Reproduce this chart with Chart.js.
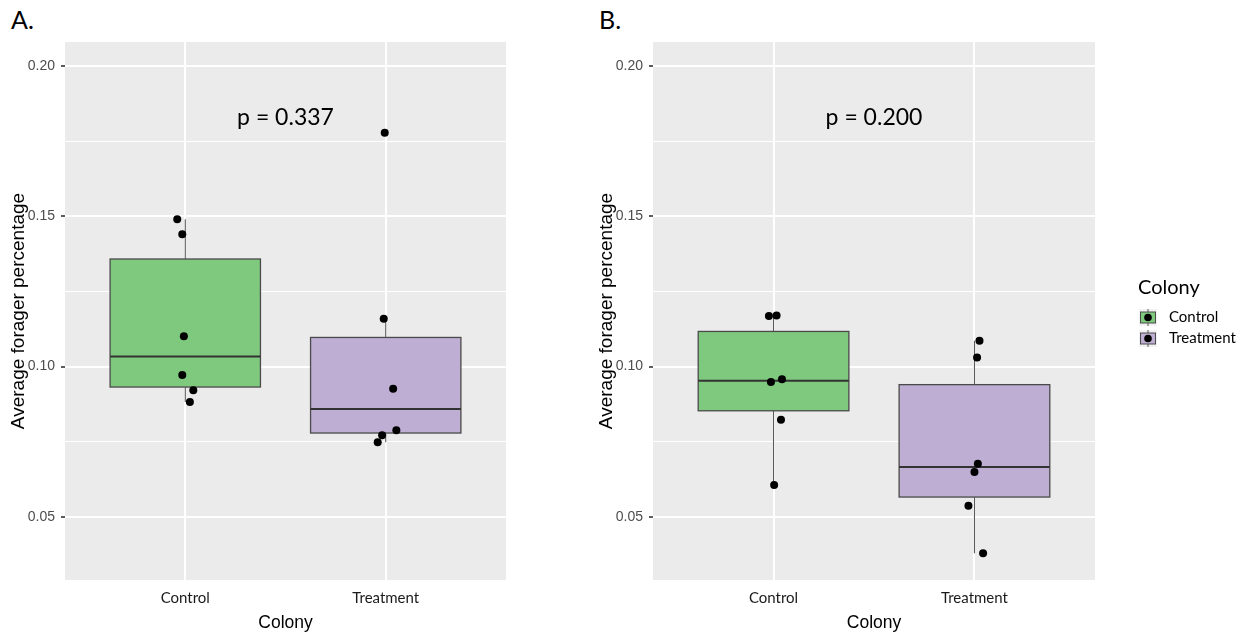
<!DOCTYPE html>
<html>
<head>
<meta charset="utf-8">
<script src="https://cdn.jsdelivr.net/npm/chart.js@4.4.1/dist/chart.umd.min.js"></script>
<style>
  body { margin: 0; background: #fff; width: 1253px; height: 636px; position: relative; overflow: hidden; }
  canvas { position: absolute; top: 0; }
  #chartA { left: 0; }
  #chartB { left: 588px; }
  .tag { position: absolute; top: 4px; font: 25px Lato, sans-serif; line-height: 30px; color: #000; }
</style>
</head>
<body>
<div class="tag" style="left:11px">A.</div>
<div class="tag" style="left:599px">B.</div>
<canvas id="chartA" width="560" height="636"></canvas>
<canvas id="chartB" width="665" height="636"></canvas>
<script>
const categories = ['Control', 'Treatment'];
const majorTicks = [0.05, 0.10, 0.15, 0.20];
const minorTicks = [0.075, 0.125, 0.175];
const fills = ['#7FC97F', '#BEAED4'];

// panel A: box stats per category, then the jittered points
const aLow = [0.0882, 0.0748];
const aQ1 = [0.0932, 0.0779];
const aMed = [0.1034, 0.0859];
const aQ3 = [0.1358, 0.1097];
const aHigh = [0.1490, 0.1159];
const aControl = [0.1490, 0.1440, 0.1101, 0.0972, 0.0921, 0.0882];
const aControlJit = [-0.04, -0.015, -0.007, -0.015, 0.04, 0.023];
const aTreat = [0.1778, 0.1159, 0.0926, 0.0788, 0.0772, 0.0748];
const aTreatJit = [-0.005, -0.01, 0.037, 0.053, -0.018, -0.04];
const aP = 'p = 0.337';

// panel B
const bLow = [0.0606, 0.0379];
const bQ1 = [0.0853, 0.0566];
const bMed = [0.0953, 0.0666];
const bQ3 = [0.1117, 0.0940];
const bHigh = [0.1170, 0.1086];
const bControl = [0.1168, 0.1170, 0.0949, 0.0958, 0.0823, 0.0606];
const bControlJit = [-0.023, 0.015, -0.013, 0.042, 0.037, 0.003];
const bTreat = [0.1086, 0.1030, 0.0677, 0.0649, 0.0537, 0.0379];
const bTreatJit = [0.025, 0.013, 0.017, 0, -0.03, 0.043];
const bP = 'p = 0.200';

const pLabelY = 0.183;

function isMajor(v) {
  return Math.abs(v * 20 - Math.round(v * 20)) < 1e-6;
}

function boxPlugin(low, q1, med, q3, high, pText) {
  return {
    id: 'boxes',
    beforeDraw(chart) {
      const { ctx, chartArea: a } = chart;
      ctx.save();
      ctx.fillStyle = '#EBEBEB';
      ctx.fillRect(a.left, a.top, a.right - a.left, a.bottom - a.top);
      ctx.restore();
    },
    beforeDatasetsDraw(chart) {
      const { ctx, scales: { x, y } } = chart;
      ctx.save();
      categories.forEach((c, i) => {
        const cx = x.getPixelForValue(i + 1);
        const half = x.getPixelForValue(i + 1 + 0.375) - cx;
        const top = y.getPixelForValue(q3[i]);
        const bot = y.getPixelForValue(q1[i]);
        // whiskers
        ctx.strokeStyle = '#5a5a5a';
        ctx.lineWidth = 1.1;
        ctx.beginPath();
        ctx.moveTo(cx, top);
        ctx.lineTo(cx, y.getPixelForValue(high[i]));
        ctx.moveTo(cx, bot);
        ctx.lineTo(cx, y.getPixelForValue(low[i]));
        ctx.stroke();
        // box
        ctx.fillStyle = fills[i];
        ctx.fillRect(cx - half, top, 2 * half, bot - top);
        ctx.strokeStyle = '#4a4a4a';
        ctx.lineWidth = 1.3;
        ctx.strokeRect(cx - half, top, 2 * half, bot - top);
        // median
        const m = y.getPixelForValue(med[i]);
        ctx.strokeStyle = '#333333';
        ctx.lineWidth = 2;
        ctx.beginPath();
        ctx.moveTo(cx - half, m);
        ctx.lineTo(cx + half, m);
        ctx.stroke();
      });
      ctx.fillStyle = '#000';
      ctx.font = '23px Lato';
      ctx.textAlign = 'center';
      ctx.textBaseline = 'middle';
      ctx.fillText(pText, x.getPixelForValue(1.5), y.getPixelForValue(pLabelY));
      ctx.restore();
    }
  };
}

const legendPlugin = {
  id: 'colonyLegend',
  afterDraw(chart) {
    const { ctx, chartArea: a } = chart;
    const lx = a.right + 43;
    ctx.save();
    ctx.fillStyle = '#000';
    ctx.textAlign = 'left';
    ctx.textBaseline = 'middle';
    ctx.font = '20px Lato';
    ctx.fillText('Colony', lx, 288);
    categories.forEach((c, i) => {
      const ky = 309 + i * 21;
      const kx = lx + 1;
      ctx.fillStyle = '#F2F2F2';
      ctx.fillRect(kx, ky, 18, 17);
      ctx.strokeStyle = '#5a5a5a';
      ctx.lineWidth = 1;
      ctx.beginPath();
      ctx.moveTo(kx + 9, ky);
      ctx.lineTo(kx + 9, ky + 17);
      ctx.stroke();
      ctx.fillStyle = fills[i];
      ctx.fillRect(kx + 1.5, ky + 3, 15, 11);
      ctx.strokeStyle = '#4a4a4a';
      ctx.strokeRect(kx + 1.5, ky + 3, 15, 11);
      ctx.fillStyle = '#000';
      ctx.beginPath();
      ctx.arc(kx + 9, ky + 8.5, 3.8, 0, Math.PI * 2);
      ctx.fill();
      ctx.font = '15px Lato';
      ctx.fillText(c, lx + 31, ky + 8.5);
    });
    ctx.restore();
  }
};

function makePanel(id, low, q1, med, q3, high, ctrl, ctrlJit, treat, treatJit, pText, rightPad, extra) {
  const plugins = [boxPlugin(low, q1, med, q3, high, pText)];
  if (extra) plugins.push(extra);
  return new Chart(document.getElementById(id), {
    type: 'scatter',
    plugins: plugins,
    data: {
      datasets: [
        {
          label: categories[0],
          data: ctrl.map((v, k) => ({ x: 1 + ctrlJit[k], y: v })),
          pointRadius: 4,
          pointBackgroundColor: '#000',
          pointBorderWidth: 0
        },
        {
          label: categories[1],
          data: treat.map((v, k) => ({ x: 2 + treatJit[k], y: v })),
          pointRadius: 4,
          pointBackgroundColor: '#000',
          pointBorderWidth: 0
        }
      ]
    },
    options: {
      responsive: false,
      animation: false,
      layout: { padding: { left: 0, right: rightPad, top: 42, bottom: 0 } },
      plugins: { legend: { display: false }, tooltip: { enabled: false } },
      scales: {
        x: {
          type: 'linear',
          min: 0.4,
          max: 2.6,
          afterBuildTicks: s => { s.ticks = categories.map((c, i) => ({ value: i + 1 })); },
          afterFit: s => { s.height = 56; },
          border: { display: false },
          grid: { color: '#FFFFFF', lineWidth: 2, drawTicks: false },
          ticks: {
            callback: v => categories[Math.round(v) - 1],
            color: '#1a1a1a',
            font: { family: 'Lato', size: 15 },
            padding: 9,
            maxRotation: 0
          },
          title: {
            display: true,
            text: 'Colony',
            color: '#000',
            font: { family: 'Liberation Sans', size: 17.5 },
            padding: { top: 2, bottom: 2 }
          }
        },
        y: {
          type: 'linear',
          min: 0.029,
          max: 0.208,
          afterBuildTicks: s => {
            s.ticks = majorTicks.concat(minorTicks).sort((p, q) => p - q).map(v => ({ value: v }));
          },
          afterFit: s => { s.width = 65; },
          border: { display: false },
          grid: {
            color: '#FFFFFF',
            lineWidth: c => (c.tick && isMajor(c.tick.value)) ? 2 : 1,
            tickColor: c => (c.tick && isMajor(c.tick.value)) ? '#333333' : 'rgba(0,0,0,0)',
            tickLength: 4,
            tickWidth: 1.6
          },
          ticks: {
            callback: v => isMajor(v) ? v.toFixed(2) : '',
            color: '#4D4D4D',
            font: { family: 'Liberation Sans', size: 14 },
            padding: 6
          },
          title: {
            display: true,
            text: 'Average forager percentage',
            color: '#000',
            font: { family: 'Liberation Sans', size: 19 },
            padding: { top: 7, bottom: 0 }
          }
        }
      }
    }
  });
}

makePanel('chartA', aLow, aQ1, aMed, aQ3, aHigh, aControl, aControlJit, aTreat, aTreatJit, aP, 54);
makePanel('chartB', bLow, bQ1, bMed, bQ3, bHigh, bControl, bControlJit, bTreat, bTreatJit, bP, 158, legendPlugin);
</script>
</body>
</html>
